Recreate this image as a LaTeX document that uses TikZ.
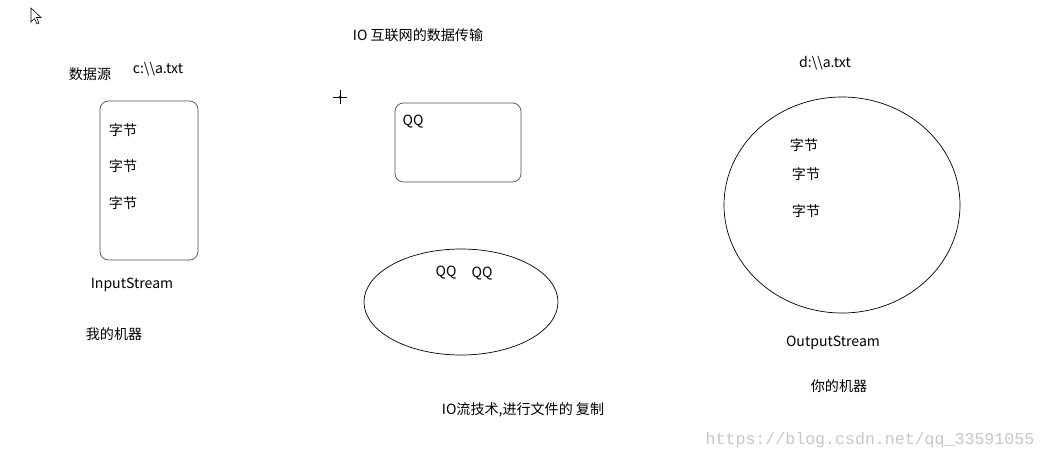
\documentclass[tikz,border=0pt]{standalone}
\usepackage{fontspec}
\setmainfont{Noto Sans CJK SC}
\newfontfamily\markfont{Liberation Mono}

\tikzset{
  txt/.style={font=\fontsize{10}{12}\selectfont, inner sep=0pt},
  box/.style={draw=black!70, rounded corners=6pt, line width=0.5pt}
}

\begin{document}
\begin{tikzpicture}[x=0.025cm,y=-0.025cm]
  \useasboundingbox (0,0) rectangle (1046,460);

  % Pointer and cross
  \draw[line width=0.4pt, fill=white] (31,8) -- (31,22) -- (34.5,18.5) -- (37,24) -- (39,23) -- (36.5,17.5) -- (41,17.5) -- cycle;
  \draw[line width=0.5pt] (333,97) -- (347,97) (340,90) -- (340,104);
  \draw[line width=0.4pt] (340,97) circle (1.3);

  % My machine
  \node[txt] (src) at (90,74) {数据源};
  \node[txt] (cfile) at (158,69) {c:\textbackslash\textbackslash a.txt};
  \draw[box] (100,101) rectangle (198,260);
  \node[txt] (b1) at (123,130) {字节};
  \node[txt] (b2) at (123,166) {字节};
  \node[txt] (b3) at (123,203) {字节};
  \node[txt] (in) at (132,285) {InputStream};
  \node[txt] (mine) at (114,334) {我的机器};

  % Network
  \node[txt] (title) at (418,35) {IO 互联网的数据传输};
  \draw[box] (395,103) rectangle (521,182);
  \node[txt] (qq) at (413,122) {QQ};
  \draw[line width=0.5pt] (461,302) ellipse (97 and 53);
  \node[txt] (qqa) at (446,273) {QQ};
  \node[txt] (qqb) at (482,274) {QQ};
  \node[txt] (copy) at (523,410) {IO流技术,进行文件的 复制};

  % Your machine
  \node[txt] (dfile) at (825,63) {d:\textbackslash\textbackslash a.txt};
  \draw[line width=0.5pt] (842,205) ellipse (118 and 108);
  \node[txt] (c1) at (804,145) {字节};
  \node[txt] (c2) at (806,174) {字节};
  \node[txt] (c3) at (806,211) {字节};
  \node[txt] (out) at (833,343) {OutputStream};
  \node[txt] (yours) at (839,386) {你的机器};

  % Watermark
  \node[inner sep=0pt, text=black!22, font=\markfont\fontsize{11.8}{13}\selectfont] (mark) at (870,440) {https://blog.csdn.net/qq\_33591055};
\end{tikzpicture}
\end{document}
